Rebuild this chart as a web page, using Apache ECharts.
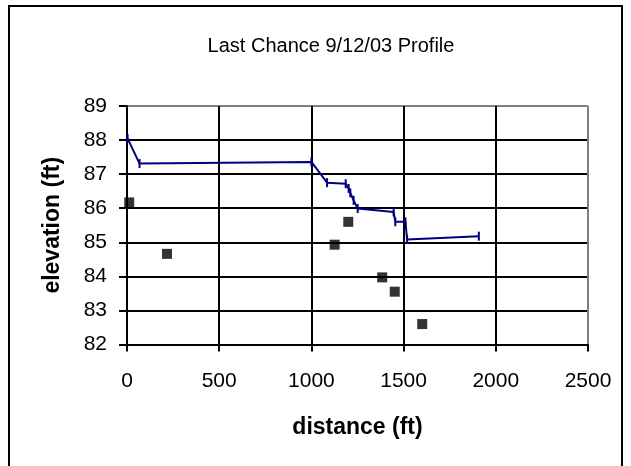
<!DOCTYPE html>
<html>
<head>
<meta charset="utf-8">
<script src="https://cdn.jsdelivr.net/npm/echarts@6/dist/echarts.min.js"></script>
<style>
html,body{margin:0;padding:0;background:#fff;}
#c{width:631px;height:466px;}
</style>
</head>
<body>
<div id="c"></div>
<script>
// Water surface profile (line with dash markers)
const profileDistance = [3, 68, 1000, 1085, 1186, 1202, 1211, 1229, 1251, 1446, 1455, 1510, 1519, 1908];
const profileElevation = [88.05, 87.31, 87.36, 86.75, 86.72, 86.58, 86.45, 86.23, 85.99, 85.89, 85.6, 85.6, 85.08, 85.18];
// Bed points (black squares)
const bedDistance = [12, 217, 1126, 1200, 1384, 1452, 1601];
const bedElevation = [86.17, 84.66, 84.93, 85.6, 83.97, 83.55, 82.6];
// Axis ticks
const xTicks = [0, 500, 1000, 1500, 2000, 2500];
const yTicks = [82, 83, 84, 85, 86, 87, 88, 89];

const titleText = 'Last Chance 9/12/03 Profile';
const xName = 'distance (ft)';
const yName = 'elevation (ft)';

const FONT = '"Liberation Sans", Arial, sans-serif';

const chart = echarts.init(document.getElementById('c'), null, {renderer: 'canvas'});

const yGridColors = yTicks.map((v, i) => i === yTicks.length - 1 ? '#808080' : '#000');
const xGridColors = xTicks.map((v, i) => i === xTicks.length - 1 ? '#808080' : '#000');

chart.setOption({
  backgroundColor: '#fff',
  animation: false,
  title: {
    text: titleText,
    left: 326,
    textAlign: 'center',
    top: 31,
    textStyle: {fontFamily: FONT, fontWeight: 'normal', fontSize: 20, color: '#000'}
  },
  graphic: [{
    type: 'rect',
    shape: {x: 9, y: 6, width: 613, height: 520},
    style: {fill: 'none', stroke: '#000', lineWidth: 2},
    silent: true
  }],
  grid: {left: 127, right: 43, top: 106, bottom: 121.5, containLabel: false, show: false},
  xAxis: {
    type: 'value',
    min: xTicks[0], max: xTicks[xTicks.length - 1], interval: 500,
    name: xName, nameLocation: 'middle', nameGap: 72,
    nameTextStyle: {fontFamily: FONT, fontWeight: 'bold', fontSize: 23, color: '#000'},
    axisLine: {show: true, lineStyle: {color: '#000', width: 2}},
    axisTick: {show: true, inside: false, length: 7, lineStyle: {color: '#000', width: 2}},
    axisLabel: {fontFamily: FONT, fontSize: 21, color: '#000', margin: 26, formatter: v => String(v)},
    splitLine: {show: true, showMinLine: true, showMaxLine: true, lineStyle: {color: xGridColors, width: 2}}
  },
  yAxis: {
    type: 'value',
    min: yTicks[0], max: yTicks[yTicks.length - 1], interval: 1,
    name: yName, nameLocation: 'middle', nameGap: 63, nameRotate: 90,
    nameTextStyle: {fontFamily: FONT, fontWeight: 'bold', fontSize: 23, color: '#000'},
    axisLine: {show: true, lineStyle: {color: '#000', width: 2}},
    axisTick: {show: true, inside: false, length: 8, lineStyle: {color: '#000', width: 2}},
    axisLabel: {fontFamily: FONT, fontSize: 21, color: '#000', margin: 20, formatter: v => String(v)},
    splitLine: {show: true, showMinLine: true, showMaxLine: true, lineStyle: {color: yGridColors, width: 2}}
  },
  series: [
    {
      type: 'line',
      data: profileDistance.map((d, i) => [d, profileElevation[i]]),
      lineStyle: {color: '#000080', width: 2},
      itemStyle: {color: '#000080'},
      symbol: 'rect',
      symbolSize: [2, 9],
      showSymbol: true,
      z: 3
    },
    {
      type: 'scatter',
      data: bedDistance.map((d, i) => [d, bedElevation[i]]),
      symbol: 'rect',
      symbolSize: 10,
      itemStyle: {color: '#000'},
      z: 4
    }
  ]
});
</script>
</body>
</html>
